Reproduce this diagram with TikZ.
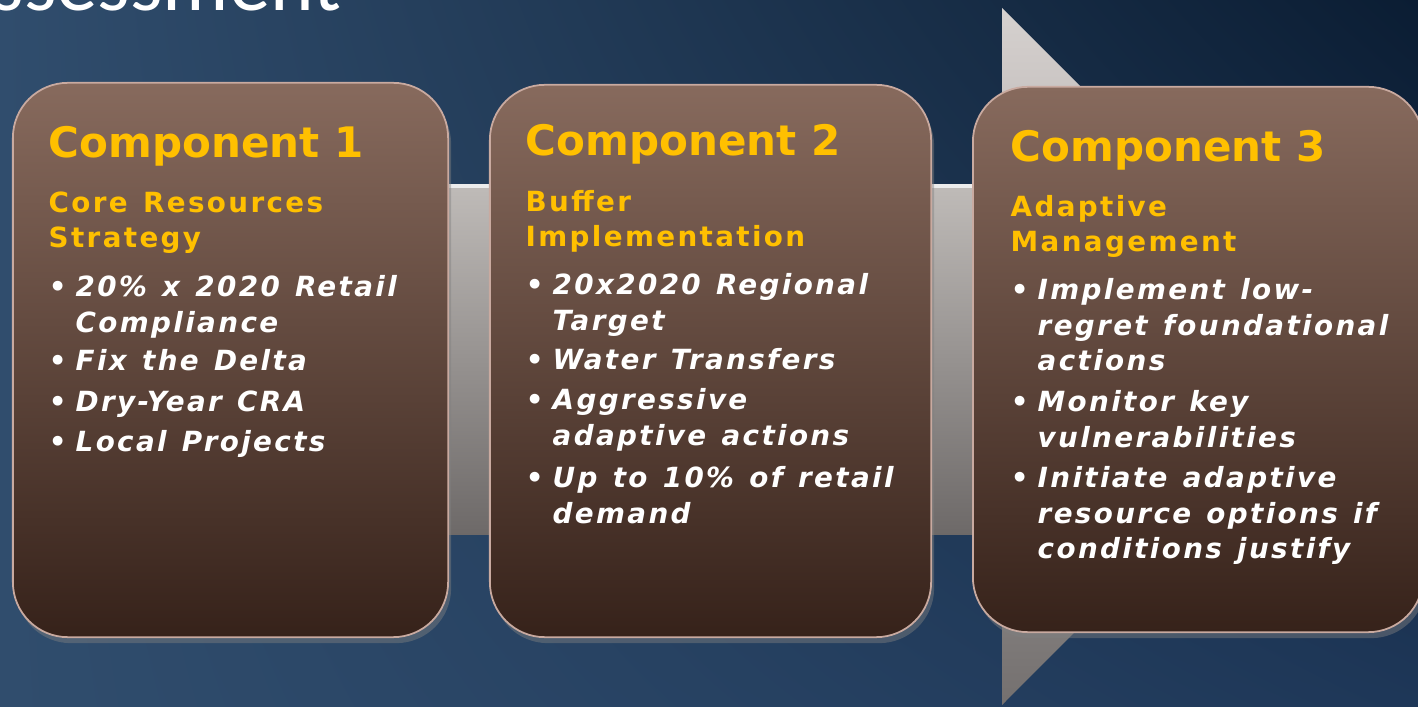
\documentclass[tikz,border=0pt]{standalone}
\usepackage{fontspec}
\setmainfont{DejaVu Sans}
\newfontfamily\titlefont{Carlito}
\newfontfamily\itemfont[LetterSpace=8.5]{DejaVu Sans}
\usetikzlibrary{shadows, shadings}

\definecolor{navyl}{HTML}{304D6D}
\definecolor{navym}{HTML}{1E3758}
\definecolor{navyd}{HTML}{0B1D33}
\definecolor{browntop}{HTML}{876A5D}
\definecolor{brownbot}{HTML}{36221A}
\definecolor{rim}{HTML}{C9AAA0}
\definecolor{gold}{HTML}{FFC000}
\definecolor{bandtop}{HTML}{BFBBB8}
\definecolor{bandbot}{HTML}{6D6968}
\definecolor{tiptop}{HTML}{D6D1CF}
\definecolor{tipbot}{HTML}{74706F}

\newcommand{\dotitem}{\llap{{\upshape\textbullet}\hspace{0.09cm}}}
\newcommand{\widespaces}{\spaceskip=0.55em\relax}

\tikzset{
  compbox/.style = {rectangle, rounded corners = 0.55cm, top color = browntop,
                    bottom color = brownbot, draw = rim, line width = 0.5pt, inner sep = 0,
                    drop shadow = {opacity = 0.45, shadow xshift = 0.03cm, shadow yshift = -0.06cm}},
  head/.style = {anchor = base west, inner sep = 0, text = gold,
                 font = \fontsize{11.95}{14}\selectfont\bfseries},
  sub/.style = {anchor = base west, inner sep = 0, text = gold, align = left, text width = 3.8cm,
                font = \fontsize{7.9}{9.8}\itemfont\bfseries,
                execute at begin node = \widespaces},
  item/.style = {anchor = base west, inner sep = 0, text = white, align = left, text width = 3.8cm,
                 font = \fontsize{7.9}{9.96}\itemfont\bfseries\itshape,
                 execute at begin node = \widespaces}
}

\begin{document}
\begin{tikzpicture}[x = 0.01cm, y = -0.01cm]
  \useasboundingbox (0,0) rectangle (1418,707);
  \clip (0,0) rectangle (1418,707);

  % background
  \shade[upper left = navyl, upper right = navyd, lower left = navyl, lower right = navym]
    (0,0) rectangle (1418,707);

  \node[anchor = base west, inner sep = 0, text = white,
        font = \fontsize{23.6}{28}\titlefont] (title) at (-9,11) {ssessment};

  % arrow behind the boxes
  \shade[top color = bandtop, bottom color = bandbot] (440,185) rectangle (1005,535);
  \draw[white!85!gray, line width = 1pt] (440,186) -- (1005,186);
  \shade[top color = tiptop, bottom color = tipbot] (1002,8) -- (1350,356) -- (1002,705) -- cycle;

  % boxes
  \node[compbox, minimum width = 4.35cm, minimum height = 5.54cm] (comp1) at (230.5,360) {};
  \node[compbox, minimum width = 4.41cm, minimum height = 5.52cm] (comp2) at (710.5,361) {};
  \node[compbox, minimum width = 4.5cm, minimum height = 5.45cm] (comp3) at (1198,359.5) {};

  % component 1
  \node[head] (head1) at (48,158) {Component 1};
  \node[sub] (sub1) at (48,213) {Core Resources\\Strategy};
  \node[item] (item11) at (75,297) {\dotitem 20\% x 2020 Retail\\Compliance};
  \node[item] (item12) at (75,371) {\dotitem Fix the Delta};
  \node[item] (item13) at (75,412) {\dotitem Dry-Year CRA};
  \node[item] (item14) at (75,452) {\dotitem Local Projects};

  % component 2
  \node[head] (head2) at (525,156) {Component 2};
  \node[sub] (sub2) at (525,212) {Buffer\\Implementation};
  \node[item] (item21) at (552,295) {\dotitem 20x2020 Regional\\Target};
  \node[item] (item22) at (552,370) {\dotitem Water Transfers};
  \node[item] (item23) at (552,410) {\dotitem Aggressive\\adaptive actions};
  \node[item] (item24) at (552,488) {\dotitem Up to 10\% of retail\\demand};

  % component 3
  \node[head] (head3) at (1010,162) {Component 3};
  \node[sub] (sub3) at (1010,217) {Adaptive\\Management};
  \node[item] (item31) at (1037,300) {\dotitem Implement low-\\regret foundational\\actions};
  \node[item] (item32) at (1037,412) {\dotitem Monitor key\\vulnerabilities};
  \node[item] (item33) at (1037,488) {\dotitem Initiate adaptive\\resource options if\\conditions justify};
\end{tikzpicture}
\end{document}
